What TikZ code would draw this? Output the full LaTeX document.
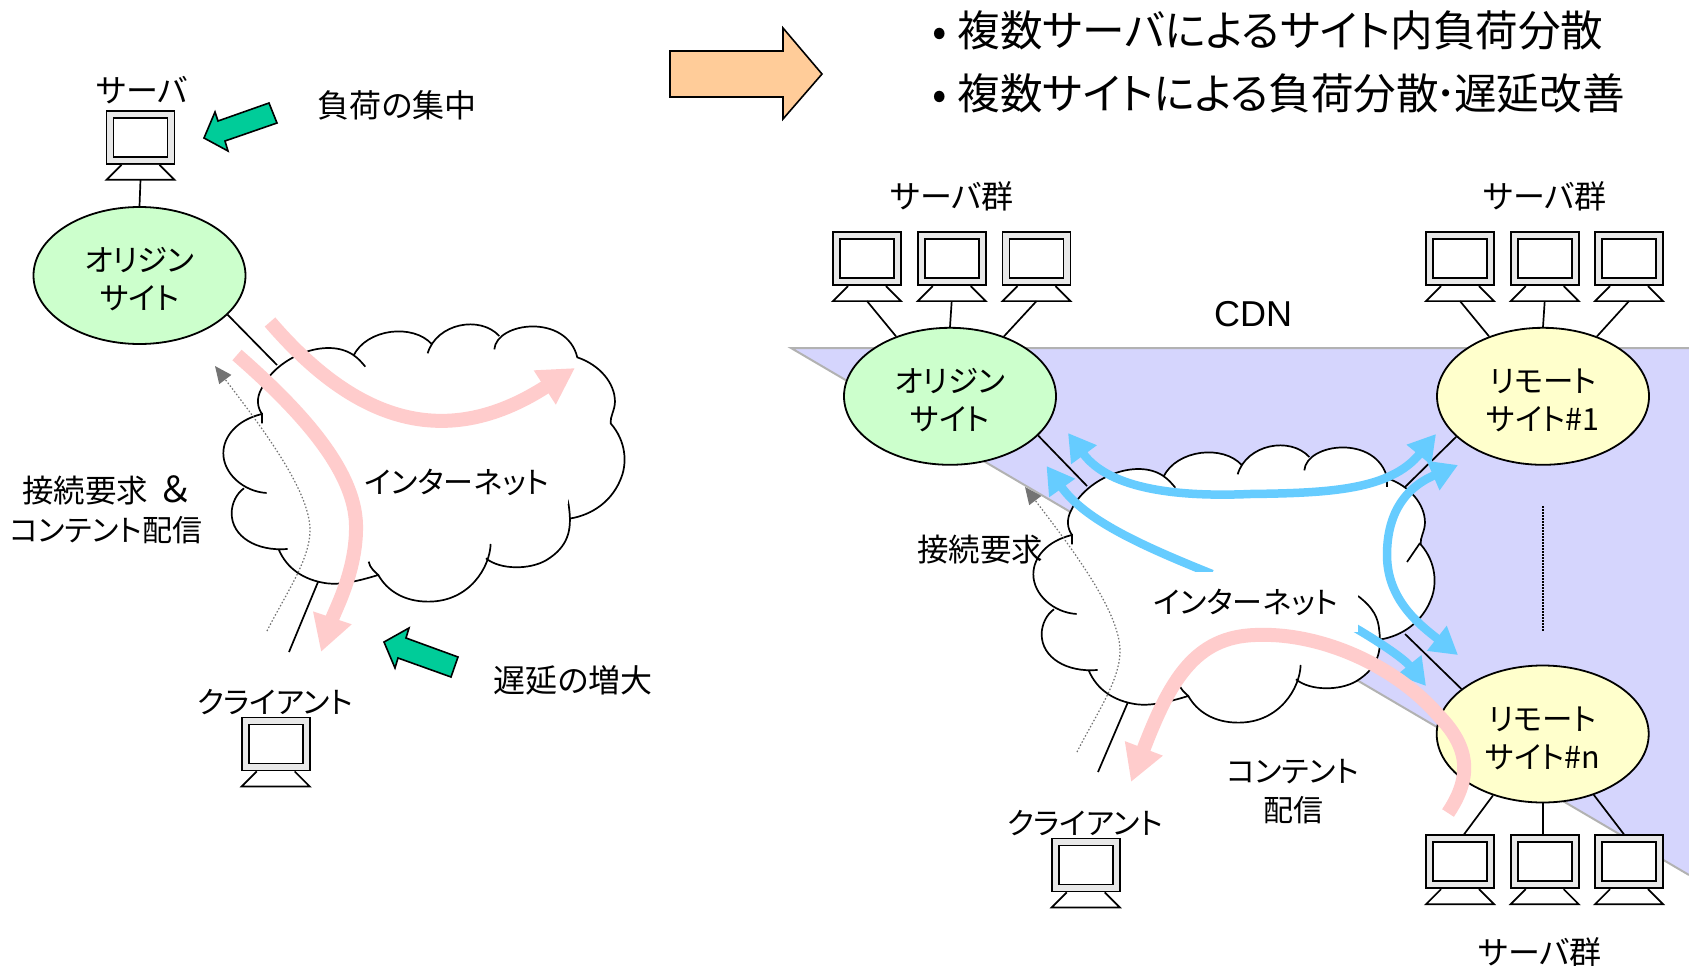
\documentclass[tikz,border=0pt]{standalone}
\usepackage{fontspec}
\usetikzlibrary{shapes.geometric}
\usetikzlibrary{arrows.meta}
\newfontfamily\jp[RawFeature=+palt]{Noto Sans CJK JP}
\newfontfamily\arial{Liberation Sans}
\definecolor{sitegreen}{HTML}{CCFFCC}
\definecolor{siteyellow}{HTML}{FFFFCC}
\definecolor{flowpink}{HTML}{FFCCCC}
\definecolor{flowblue}{HTML}{66CCFF}
\definecolor{notegreen}{HTML}{00CC99}
\definecolor{bigorange}{HTML}{FFCC99}
\definecolor{cdnblue}{HTML}{D5D5FD}
\tikzset{
  lbl/.style={font=\jp\fontsize{32}{39}\selectfont,align=center,inner sep=0pt},
  head/.style={font=\jp\fontsize{42.6}{50}\selectfont,anchor=west,inner sep=0pt},
  site/.style={ellipse,draw,line width=1.8pt,minimum width=212pt,minimum height=137pt,inner sep=0pt,align=center,font=\jp\fontsize{30.5}{38}\selectfont},
  netlabel/.style={fill=white,inner sep=0pt,font=\jp\fontsize{30}{38}\selectfont},
  monitor/.style={rectangle,draw,fill=black!9,line width=1.8pt,minimum width=68pt,minimum height=53pt,inner sep=0pt},
  pcscreen/.style={rectangle,draw,fill=white,line width=1.8pt,minimum width=54pt,minimum height=39pt,inner sep=0pt},
  link/.style={line width=1.7pt},
  pinkflow/.style={line width=14pt,flowpink,-{Triangle[length=36pt,width=38pt]}},
  blueflow/.style={line width=8.5pt,flowblue,-{Triangle[length=27pt,width=30pt]}},
  blueflows/.style={line width=8.5pt,flowblue,{Triangle[length=27pt,width=30pt]}-{Triangle[length=27pt,width=30pt]}},
  request/.style={line width=1.2pt,black!55,dash pattern=on 1.5pt off 2pt,-{Triangle[length=17pt,width=15pt]}},
  note/.style={draw,line width=1.6pt,fill=notegreen,line join=miter}
}
% two lines of a site, set a little low
\newcommand{\sitetext}[2]{\rule{0pt}{31.5pt}#1\\#2}
% lobes of the cloud, in units of 1/3 px; #1 joins them
\newcommand{\cloudlobes}[1]{(246,282) .. controls (232,262) and (228,235) .. (245,205) .. controls (290,110) and (440,50) .. (520,105) .. controls (535,115) and (545,127) .. (556,140) #1
 (520,108) .. controls (560,25) and (700,10) .. (756,73) #1
 (743,100) .. controls (770,10) and (900,-15) .. (958,48) #1
 (943,88) .. controls (950,5) and (1160,-20) .. (1192,112) .. controls (1260,135) and (1305,190) .. (1305,245) .. controls (1305,270) and (1290,290) .. (1292,310) .. controls (1340,365) and (1340,430) .. (1325,470) .. controls (1300,540) and (1240,585) .. (1168,596) #1
 (1104,465) .. controls (1150,500) and (1165,530) .. (1168,570) .. controls (1175,630) and (1165,680) .. (1100,720) .. controls (1050,750) and (960,750) .. (918,715) #1
 (932,672) .. controls (930,740) and (870,845) .. (745,845) .. controls (670,845) and (620,810) .. (595,765) .. controls (585,755) and (570,745) .. (566,725) #1
 (595,765) .. controls (530,785) and (480,795) .. (440,790) .. controls (370,780) and (320,745) .. (296,688) #1
 (323,687) .. controls (230,695) and (155,650) .. (155,580) .. controls (155,550) and (170,520) .. (192,505) #1
 (260,519) .. controls (190,515) and (130,460) .. (130,400) .. controls (130,350) and (170,300) .. (246,282) -- (246,310)}
\tikzset{netcloud/.pic={
  \begin{scope}[shift={(180,320)},x=0.3333pt,y=-0.3333pt]
  \fill[white] \cloudlobes{--};
  \draw[line width=1.7pt] \cloudlobes{};
  \end{scope}
}}
% monitor with its foot: name, x, y
\newcommand{\pcnode}[3]{
  \node[monitor] (#1) at (#2,#3) {};
  \node[pcscreen] (#1s) at (#1) {};
  \draw[link,fill=white] (#1.south) +(-19,0) -- +(-34,15) -- +(34,15) -- +(19,0);
  \coordinate (#1b) at ([yshift=-15pt]#1.south);
}
\begin{document}
\begin{tikzpicture}[x=1pt,y=-1pt]
\useasboundingbox (0,0) rectangle (1689,966);

% headline
\draw[line width=1.6pt,fill=bigorange] (670,51) -- (783,51) -- (783,28) -- (822,74) -- (783,119) -- (783,97) -- (670,97) -- cycle;
\node[head] (headA) at (932,30) {•\hspace{11pt}複数サーバによるサイト内負荷分散};
\node[head] (headB) at (932,93) {•\hspace{11pt}複数サイトによる負荷分散\kern-3pt･\kern-3pt遅延改善};

% left network
\coordinate (leftcloud) at (277,365);
\coordinate (leftstart) at (318,582);
\coordinate (leftend) at (289,652);
\node[lbl] (srvlabel) at (142,90) {サーバ};
\pcnode{srv}{140.5}{137.4}
\node[site,fill=sitegreen] (origin) at (139.5,275.5) {\sitetext{オリジン}{サイト}};
\draw[link] (srvb) -- (origin.north);
\draw[link] (origin.-24) -- (leftcloud);
\draw[link] (leftstart) -- (leftend);
\pic {netcloud};
\node[netlabel,minimum width=222pt,minimum height=44pt] (netA) at (457,482) {インターネット};
\draw[request] (267,631) .. controls (285,595) and (310,560) .. (310,530) .. controls (310,490) and (260,425) .. (215,366);
\draw[pinkflow] (270,322) .. controls (350,415) and (440,455) .. (575,368);
\draw[pinkflow] (237,355) .. controls (300,410) and (355,470) .. (356,525) .. controls (357,570) and (335,610) .. (321,652);
\draw[note] (204,138) -- (215,112) -- (218,121) -- (269,103) -- (277,123) -- (225,141) -- (228,151) -- cycle;
\draw[note] (384,642) -- (409,628) -- (406,638) -- (458,657) -- (451,677) -- (398,658) -- (395,668) -- cycle;
\node[lbl] (loadnote) at (397,105) {負荷の集中};
\node[lbl] (delaynote) at (573,680) {遅延の増大};
\node[lbl,font=\jp\fontsize{30}{39}\selectfont] (reqlabelA) at (106,510) {{\fontsize{31.5}{39}\selectfont 接続要求}\hspace{12pt}{\fontsize{36}{39}\selectfont ＆}\\コンテント配信};
\node[lbl,font=\jp\fontsize{30}{39}\selectfont] (clientlabelA) at (275,702) {クライアント};
\pcnode{clientA}{275.7}{744}

% CDN band
\coordinate (cdntop) at (791,348);
\coordinate (cdnright) at (1689,348);
\coordinate (cdnbottom) at (1689,875);
\fill[cdnblue] (cdntop) -- (cdnright) -- (cdnbottom) -- cycle;
\draw[line width=2pt,black!30] (cdnright) -- (cdntop) -- (cdnbottom);
\node[font=\arial\fontsize{36}{40}\selectfont,inner sep=0pt] (cdn) at (1253,314) {CDN};

% right network
\node[lbl] (grpA) at (952,196) {サーバ群};
\node[lbl] (grpB) at (1545,196) {サーバ群};
\node[lbl] (grpC) at (1540,952) {サーバ群};
\pcnode{oa}{867}{258.7}
\pcnode{ob}{951.7}{258.7}
\pcnode{oc}{1036.5}{258.7}
\pcnode{ra}{1460}{258.7}
\pcnode{rb}{1544.7}{258.7}
\pcnode{rc}{1629}{258.7}
\pcnode{na}{1460}{861.8}
\pcnode{nb}{1544.7}{861.8}
\pcnode{nc}{1629}{861.8}
\node[site,fill=sitegreen] (originB) at (950,396.3) {\sitetext{オリジン}{サイト}};
\node[site,fill=siteyellow] (remoteA) at (1543,396.3) {\sitetext{リモート}{サイト\#1}};
\node[site,fill=siteyellow] (remoteN) at (1542.7,734) {\sitetext{リモート}{サイト\#n}};
\draw[link] (oab) -- (originB.132);
\draw[link] (obb) -- (originB.90);
\draw[link] (ocb) -- (originB.48);
\draw[link] (rab) -- (remoteA.132);
\draw[link] (rbb) -- (remoteA.90);
\draw[link] (rcb) -- (remoteA.48);
\draw[link] ([xshift=4pt]na.north) -- (remoteN.-129);
\draw[link] ([xshift=-2pt]nb.north) -- (remoteN.-90);
\draw[link] ([xshift=-5pt]nc.north) -- (remoteN.-50);
\coordinate (cloudO) at (1087,486);
\coordinate (cloudR) at (1405,487);
\coordinate (cloudN) at (1405,634);
\coordinate (rightstart) at (1128,702);
\coordinate (rightend) at (1098,772);
\coordinate (gaptop) at (1542.7,506);
\coordinate (gapbottom) at (1542.7,632);
\draw[link] (originB.-24) -- (cloudO);
\draw[link] (remoteA.205) -- (cloudR);
\draw[link] (remoteN.151) -- (cloudN);
\draw[link] (rightstart) -- (rightend);
\draw[line width=1.6pt,dash pattern=on 1.5pt off 1.5pt] (gaptop) -- (gapbottom);
\begin{scope}[shift={(810,121)}]
\pic {netcloud};
\draw[request] (267,631) .. controls (285,595) and (310,560) .. (310,530) .. controls (310,490) and (260,425) .. (215,366);
\end{scope}
\draw[link] (1387,477) -- (1387,487);
\draw[link] (1407,562) -- (1420,543);
\draw[blueflows] (1068,433) .. controls (1110,490) and (1180,497) .. (1250,494) .. controls (1330,493) and (1390,490) .. (1436,434);
\draw[blueflow] (1212,574) .. controls (1140,545) and (1085,520) .. (1046.5,466);
\draw[blueflows] (1458,465) .. controls (1400,490) and (1387,520) .. (1387,555) .. controls (1387,600) and (1420,625) .. (1458,655);
\draw[blueflow] (1345,622) .. controls (1385,645) and (1405,660) .. (1426,686);
\node[netlabel,minimum width=224pt,minimum height=60pt] (netB) at (1246,602) {インターネット};
\draw[pinkflow] (1448,813) .. controls (1470,780) and (1472,750) .. (1439,716) .. controls (1395,665) and (1320,632) .. (1255,635) .. controls (1195,637) and (1170,680) .. (1131,782);
\node[lbl,font=\jp\fontsize{31.5}{39}\selectfont] (reqlabelB) at (980,550) {接続要求};
\node[lbl,font=\jp\fontsize{30}{39}\selectfont] (clientlabelB) at (1085,823) {クライアント};
\pcnode{clientB}{1085.7}{865}
\node[lbl,font=\jp\fontsize{30}{39}\selectfont] (deliver) at (1293,792) {コンテント\\配信};
\end{tikzpicture}
\end{document}
